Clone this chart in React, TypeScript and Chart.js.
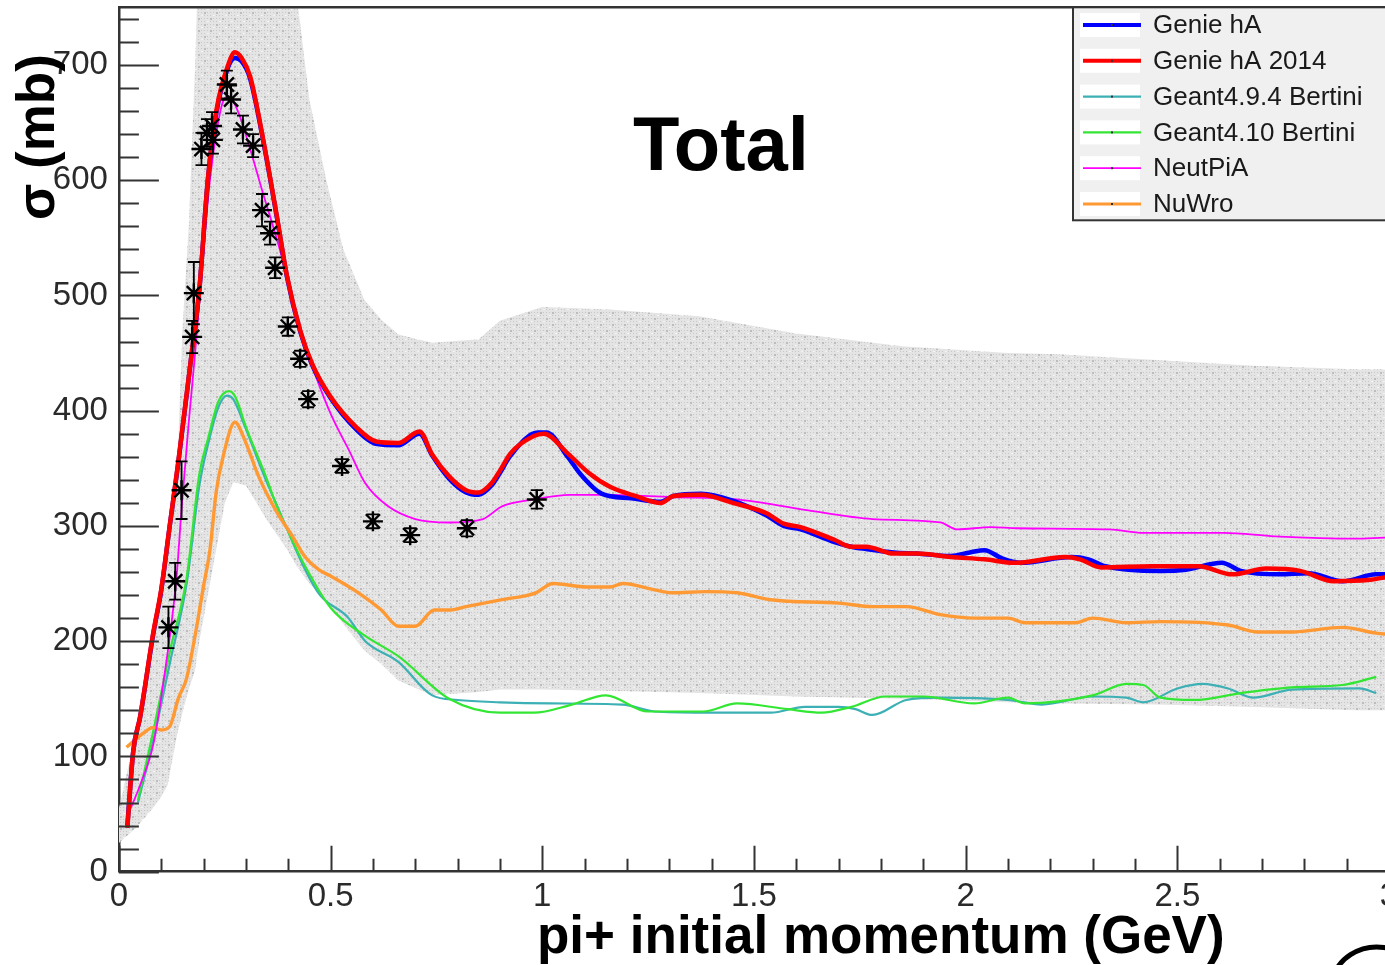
import { useEffect, useRef } from 'react';
import { Chart, registerables } from 'chart.js';

Chart.register(...registerables);

// ---------- tick labels / legend ----------
const xTickLabels = ['0', '0.5', '1', '1.5', '2', '2.5', '3'];
const yTickLabels = ['0', '100', '200', '300', '400', '500', '600', '700'];
const legendLabels = ['Genie hA', 'Genie hA 2014', 'Geant4.9.4 Bertini', 'Geant4.10 Bertini', 'NeutPiA', 'NuWro'];
const legendColors = ['#0000ff', '#ff0000', '#3cb0b4', '#33e633', '#ff00ff', '#ff9933'];
const legendWidths = [4, 4, 2.2, 2.2, 1.8, 3.2];

// ---------- Genie hA (blue) ----------
const genieX = [0.02, 0.034, 0.05, 0.081, 0.1, 0.12, 0.14, 0.172, 0.19, 0.21, 0.23, 0.258, 0.274, 0.29, 0.31, 0.345, 0.373, 0.397, 0.428, 0.456, 0.5, 0.56, 0.61, 0.66, 0.71, 0.74, 0.78, 0.82, 0.85, 0.88, 0.9, 0.925, 0.99, 1.01, 1.06, 1.09, 1.14, 1.21, 1.28, 1.31, 1.375, 1.45, 1.53, 1.57, 1.61, 1.69, 1.73, 1.765, 1.83, 1.885, 1.965, 2.01, 2.045, 2.085, 2.13, 2.25, 2.29, 2.33, 2.46, 2.52, 2.605, 2.65, 2.74, 2.81, 2.89, 2.97, 3.0];
const genieY = [40, 105, 134, 206, 244, 300, 354, 450, 505, 600, 658, 698, 706, 703, 688, 626, 568, 516, 469, 440, 411, 384, 371, 370, 380, 361, 341, 329, 327, 335, 346, 361, 381, 381, 360, 345, 328, 324, 321, 326, 328, 322, 309, 300, 297, 286, 282, 280, 277, 276, 274, 277, 279, 272, 268, 273, 271, 265, 261, 262, 268, 261, 258, 259, 252, 258, 258];

// ---------- Genie hA 2014 (red) ----------
const genie14X = [0.02, 0.034, 0.05, 0.081, 0.1, 0.12, 0.14, 0.172, 0.19, 0.21, 0.23, 0.258, 0.274, 0.29, 0.31, 0.345, 0.373, 0.397, 0.428, 0.456, 0.5, 0.56, 0.61, 0.66, 0.71, 0.74, 0.78, 0.82, 0.85, 0.88, 0.9, 0.925, 0.98, 1.004, 1.06, 1.11, 1.16, 1.22, 1.28, 1.31, 1.375, 1.45, 1.53, 1.57, 1.61, 1.69, 1.73, 1.765, 1.83, 1.885, 1.965, 2.045, 2.115, 2.235, 2.27, 2.32, 2.44, 2.55, 2.63, 2.71, 2.79, 2.87, 2.95, 3.0];
const genie14Y = [38, 105, 134, 207, 245, 300, 355, 450, 505, 600, 660, 700, 711, 706, 690, 627, 569, 517, 470, 441, 412, 386, 373, 372, 382, 362, 343, 331, 329, 337, 348, 363, 378, 380, 363, 346, 334, 326, 320, 326, 327, 320, 311, 302, 299, 288, 282, 282, 276, 276, 273, 271, 268, 273, 271, 264, 265, 265, 258, 263, 261, 252, 253, 256];

// ---------- Geant4.9.4 Bertini (teal) ----------
const g494X = [0.045, 0.08, 0.121, 0.16, 0.19, 0.21, 0.235, 0.255, 0.27, 0.3, 0.347, 0.38, 0.44, 0.475, 0.54, 0.582, 0.66, 0.74, 0.8, 0.9, 1.02, 1.19, 1.265, 1.38, 1.54, 1.62, 1.7, 1.74, 1.78, 1.86, 1.94, 2.1, 2.18, 2.3, 2.38, 2.42, 2.5, 2.56, 2.62, 2.68, 2.77, 2.93, 2.97];
const g494Y = [60, 112, 182, 250, 335, 370, 403, 413, 410, 384, 340, 312, 262, 240, 221, 200, 182, 153, 149, 147, 146, 145, 139, 138, 138, 143, 143, 141, 136, 149, 151, 149, 145, 152, 151, 147, 159, 163, 159, 151, 158, 159, 155];

// ---------- Geant4.10 Bertini (green) ----------
const g410X = [0.045, 0.08, 0.121, 0.16, 0.19, 0.21, 0.235, 0.26, 0.275, 0.3, 0.347, 0.37, 0.395, 0.44, 0.5, 0.58, 0.66, 0.78, 0.9, 0.98, 1.07, 1.15, 1.25, 1.38, 1.46, 1.58, 1.66, 1.73, 1.81, 1.9, 2.02, 2.1, 2.14, 2.3, 2.38, 2.42, 2.46, 2.54, 2.65, 2.77, 2.89, 2.97];
const g410Y = [62, 120, 192, 255, 345, 375, 408, 417, 412, 386, 343, 320, 299, 265, 229, 205, 187, 150, 138, 138, 145, 153, 139, 139, 146, 141, 138, 143, 152, 152, 146, 151, 146, 153, 163, 162, 151, 149, 155, 160, 162, 169];

// ---------- NeutPiA (magenta) ----------
const neutX = [0.022, 0.05, 0.081, 0.105, 0.136, 0.148, 0.165, 0.18, 0.2, 0.215, 0.243, 0.258, 0.281, 0.31, 0.34, 0.373, 0.397, 0.428, 0.465, 0.503, 0.543, 0.582, 0.636, 0.7, 0.78, 0.86, 0.905, 0.98, 1.065, 1.15, 1.305, 1.46, 1.62, 1.78, 1.94, 1.98, 2.06, 2.12, 2.34, 2.42, 2.61, 2.73, 2.93, 3.0];
const neutY = [50, 75, 110, 164, 255, 315, 390, 450, 540, 600, 665, 673, 660, 627, 589, 549, 517, 470, 430, 395, 366, 337, 317, 306, 303, 306, 317, 323, 327, 327, 325, 323, 314, 306, 303, 297, 299, 298, 297, 294, 294, 291, 289, 290];

// ---------- NuWro (orange) ----------
const nuwroX = [0.018, 0.057, 0.08, 0.1, 0.12, 0.14, 0.16, 0.18, 0.2, 0.215, 0.23, 0.246, 0.274, 0.3, 0.33, 0.37, 0.41, 0.44, 0.472, 0.503, 0.566, 0.62, 0.66, 0.7, 0.745, 0.78, 0.82, 0.905, 0.985, 1.025, 1.105, 1.16, 1.19, 1.26, 1.305, 1.385, 1.46, 1.54, 1.7, 1.78, 1.86, 1.94, 2.02, 2.1, 2.14, 2.26, 2.3, 2.38, 2.46, 2.62, 2.69, 2.77, 2.89, 2.97, 3.0];
const nuwroY = [108, 120, 125, 123, 126, 150, 168, 205, 248, 279, 330, 360, 390, 372, 343, 314, 291, 273, 262, 256, 242, 227, 213, 213, 227, 227, 230, 236, 242, 250, 247, 247, 250, 245, 242, 243, 242, 236, 233, 230, 230, 223, 220, 220, 216, 216, 220, 216, 217, 214, 208, 208, 212, 207, 206];

// ---------- uncertainty band ----------
const bandX = [0.0, 0.04, 0.08, 0.1, 0.115, 0.137, 0.15, 0.165, 0.18, 0.19, 0.22, 0.25, 0.27, 0.3, 0.35, 0.4, 0.42, 0.45, 0.49, 0.53, 0.58, 0.62, 0.66, 0.74, 0.85, 0.9, 1.0, 1.15, 1.37, 1.6, 1.85, 2.1, 2.22, 2.45, 2.68, 2.92, 3.0];
const bandUpper = [55, 120, 195, 240, 275, 340, 470, 560, 700, 820, 820, 820, 820, 820, 820, 820, 760, 670, 600, 540, 496, 479, 466, 459, 462, 478, 490, 488, 482, 467, 456, 450, 449, 444, 439, 436, 436];
const bandLower = [25, 38, 55, 65, 75, 118, 138, 158, 175, 200, 260, 320, 338, 335, 305, 278, 265, 250, 236, 215, 192, 180, 166, 153, 156, 158, 158, 157, 155, 152, 150, 147, 146, 145, 143, 140, 140];

// ---------- data points ----------
const dataX = [0.117, 0.133, 0.148, 0.173, 0.177, 0.195, 0.208, 0.22, 0.222, 0.255, 0.265, 0.293, 0.317, 0.338, 0.357, 0.369, 0.399, 0.428, 0.447, 0.527, 0.6, 0.688, 0.822, 0.987];
const dataY = [212, 252, 331, 464, 502, 627, 641, 647, 635, 683, 670, 644, 630, 574, 554, 524, 473, 445, 410, 352, 304, 292, 298, 323];
const dataErr = [18, 16, 25, 14, 27, 14, 12, 12, 12, 12, 12, 12, 10, 14, 10, 9, 8, 7, 7, 6, 6, 6, 7, 8];

const pts = (xs: number[], ys: number[]) => xs.map((x, i) => ({ x, y: ys[i] }));

function makePattern(): CanvasPattern | string {
  const c = document.createElement('canvas');
  c.width = 12;
  c.height = 12;
  const g = c.getContext('2d');
  if (!g) return '#dcdcdc';
  g.fillStyle = '#e4e4e4';
  g.fillRect(0, 0, 12, 12);
  g.fillStyle = '#c8c8c8';
  for (let i = 0; i < 12; i += 3) for (let j = 0; j < 12; j += 3) g.fillRect(i, j, 1, 1);
  g.fillStyle = '#bdbdbd';
  g.fillRect(0, 0, 2, 2);
  g.fillRect(6, 6, 2, 2);
  g.fillStyle = '#f4f4f4';
  g.fillRect(3, 9, 2, 1);
  g.fillRect(9, 3, 2, 1);
  return g.createPattern(c, 'repeat') || '#dcdcdc';
}

export default function App() {
  const ref = useRef<HTMLCanvasElement>(null);

  useEffect(() => {
    const canvas = ref.current;
    if (!canvas) return;
    const pattern = makePattern();

    const deco = {
      id: 'deco',
      afterDatasetsDraw(chart: any) {
        const { ctx, scales } = chart;
        const x = scales.x;
        const y = scales.y;
        ctx.save();
        ctx.strokeStyle = '#000';
        ctx.lineWidth = 1.8;
        dataX.forEach((v, i) => {
          const px = x.getPixelForValue(v);
          const y1 = y.getPixelForValue(dataY[i] - dataErr[i]);
          const y2 = y.getPixelForValue(dataY[i] + dataErr[i]);
          ctx.beginPath();
          ctx.moveTo(px, y1);
          ctx.lineTo(px, y2);
          ctx.moveTo(px - 6, y1);
          ctx.lineTo(px + 6, y1);
          ctx.moveTo(px - 6, y2);
          ctx.lineTo(px + 6, y2);
          ctx.stroke();
        });
        ctx.restore();
      },
      afterDraw(chart: any) {
        const { ctx, chartArea: a, scales } = chart;
        const x = scales.x;
        const y = scales.y;
        ctx.save();
        // frame top
        ctx.strokeStyle = '#333';
        ctx.lineWidth = 2.5;
        ctx.beginPath();
        ctx.moveTo(a.left, a.top);
        ctx.lineTo(a.right, a.top);
        ctx.stroke();
        // inner ticks (ROOT style)
        ctx.lineWidth = 2;
        ctx.beginPath();
        for (let v = 0; v <= 740; v += 20) {
          const py = Math.round(y.getPixelForValue(v)) + 0.5;
          const len = v % 100 === 0 ? 40 : 20;
          ctx.moveTo(a.left, py);
          ctx.lineTo(a.left + len, py);
        }
        for (let k = 0; k <= 30; k++) {
          const px = Math.round(x.getPixelForValue(k / 10)) + 0.5;
          const len = k % 5 === 0 ? 26 : 13;
          ctx.moveTo(px, a.bottom);
          ctx.lineTo(px, a.bottom - len);
        }
        ctx.stroke();

        // legend
        const lx = 1073;
        const ly = a.top;
        ctx.fillStyle = '#f0f0f0';
        ctx.fillRect(lx, ly, 400, 213);
        ctx.strokeStyle = '#333';
        ctx.lineWidth = 2;
        ctx.strokeRect(lx, ly, 400, 213);
        legendLabels.forEach((lab, i) => {
          const cy = 25 + i * 35.8;
          ctx.fillStyle = '#ffffff';
          ctx.fillRect(1080, cy - 12, 60, 24);
          ctx.strokeStyle = legendColors[i];
          ctx.lineWidth = legendWidths[i];
          ctx.beginPath();
          ctx.moveTo(1083, cy);
          ctx.lineTo(1141, cy);
          ctx.stroke();
          ctx.fillStyle = '#333';
          ctx.fillRect(1111, cy - 1, 2, 2);
          ctx.fillStyle = '#1a1a1a';
          ctx.font = '26px "Liberation Sans", Arial, sans-serif';
          ctx.textAlign = 'left';
          ctx.textBaseline = 'middle';
          ctx.fillText(lab, 1153, cy + 1);
        });

        // title
        ctx.fillStyle = '#000';
        ctx.font = 'bold 76px "Liberation Sans", Arial, sans-serif';
        ctx.textAlign = 'left';
        ctx.textBaseline = 'alphabetic';
        ctx.fillText('Total', 633, 170);

        // axis titles
        ctx.font = 'bold 53px "Liberation Sans", Arial, sans-serif';
        ctx.fillText('pi+ initial momentum (GeV)', 537, 953);
        ctx.save();
        ctx.translate(54, 220);
        ctx.rotate(-Math.PI / 2);
        ctx.fillText('σ (mb)', 0, 0);
        ctx.restore();

        // partial arc at the bottom right
        ctx.strokeStyle = '#000';
        ctx.lineWidth = 5;
        ctx.beginPath();
        ctx.ellipse(1377, 987, 45, 40, 0, Math.PI * 1.05, Math.PI * 1.95);
        ctx.stroke();
        ctx.restore();
      },
    };

    const line = (label: string, xs: number[], ys: number[], color: string, w: number, order: number) => ({
      label,
      data: pts(xs, ys),
      borderColor: color,
      backgroundColor: color,
      borderWidth: w,
      pointRadius: 0,
      fill: false,
      cubicInterpolationMode: 'monotone' as const,
      order,
    });

    const chart = new Chart(canvas, {
      type: 'line',
      data: {
        datasets: [
          {
            label: 'band upper',
            data: pts(bandX, bandUpper),
            borderWidth: 0,
            borderColor: 'rgba(0,0,0,0)',
            backgroundColor: pattern as any,
            pointRadius: 0,
            fill: '+1',
            tension: 0,
            order: 20,
          },
          {
            label: 'band lower',
            data: pts(bandX, bandLower),
            borderWidth: 0,
            borderColor: 'rgba(0,0,0,0)',
            pointRadius: 0,
            fill: false,
            tension: 0,
            order: 21,
          },
          line(legendLabels[0], genieX, genieY, legendColors[0], 4.5, 2),
          line(legendLabels[1], genie14X, genie14Y, legendColors[1], 4.5, 1),
          line(legendLabels[2], g494X, g494Y, legendColors[2], 2.2, 6),
          line(legendLabels[3], g410X, g410Y, legendColors[3], 2.2, 5),
          line(legendLabels[4], neutX, neutY, legendColors[4], 1.8, 3),
          line(legendLabels[5], nuwroX, nuwroY, legendColors[5], 3.4, 4),
          {
            label: 'data',
            data: pts(dataX, dataY),
            showLine: false,
            pointStyle: 'star',
            pointRadius: 10,
            borderWidth: 2.4,
            borderColor: '#000',
            backgroundColor: '#000',
            order: 0,
          } as any,
        ],
      },
      options: {
        animation: false,
        responsive: false,
        devicePixelRatio: 1,
        layout: { autoPadding: false, padding: { top: 7.3, right: 11, left: 0, bottom: 0 } },
        plugins: { legend: { display: false }, tooltip: { enabled: false } },
        scales: {
          x: {
            type: 'linear',
            min: 0,
            max: 3,
            z: 1,
            grid: { display: false, drawTicks: false },
            border: { display: true, color: '#333', width: 2.5 },
            ticks: {
              stepSize: 0.5,
              autoSkip: false,
              maxRotation: 0,
              padding: 5,
              color: '#2a2a2a',
              font: { size: 33, family: '"Liberation Sans", Arial, sans-serif' },
              callback: (_v: any, i: number) => xTickLabels[i],
            },
            afterFit: (s: any) => {
              s.height = 93.3;
              s.paddingLeft = 0;
              s.paddingRight = 0;
            },
          },
          y: {
            type: 'linear',
            min: 0,
            max: 750,
            z: 1,
            grid: { display: false, drawTicks: false },
            border: { display: true, color: '#333', width: 2.5 },
            ticks: {
              stepSize: 100,
              padding: 11,
              color: '#2a2a2a',
              font: { size: 33, family: '"Liberation Sans", Arial, sans-serif' },
              callback: (_v: any, i: number) => yTickLabels[i],
            },
            afterBuildTicks: (s: any) => {
              s.ticks = s.ticks.filter((t: any) => t.value % 100 === 0);
            },
            afterFit: (s: any) => {
              s.width = 118.9;
              s.paddingTop = 0;
              s.paddingBottom = 0;
            },
          },
        },
      },
      plugins: [deco],
    });

    return () => chart.destroy();
  }, []);

  return (
    <div style={{ position: 'absolute', left: 0, top: 0, width: 1385, height: 965, overflow: 'hidden', background: '#fff' }}>
      <canvas ref={ref} width={1400} height={965} style={{ width: 1400, height: 965, display: 'block' }} />
    </div>
  );
}
